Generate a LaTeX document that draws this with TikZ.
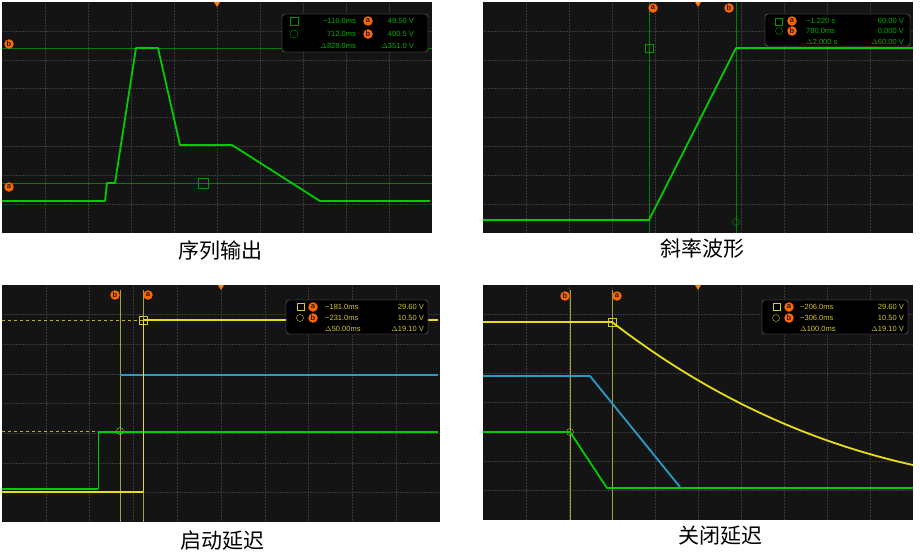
\documentclass[tikz,border=0pt]{standalone}
\usepackage{fontspec}
\newfontfamily\cjk{Noto Sans CJK SC}
\setmainfont{Liberation Sans}
\begin{document}
\begin{tikzpicture}[x=1pt,y=-1pt,
 scr/.style={fill=black!92},
 grd/.style={gray!45!black,densely dotted,line width=0.5pt},
 cur/.style={line width=0.6pt},
 tr/.style={line width=1.8pt,line join=round},
 mk/.style={circle,fill=orange!80!red,inner sep=0pt,minimum size=9.5pt,font=\fontsize{7.5}{7.5}\selectfont\bfseries,text=black!90},
 rd/.style={font=\fontsize{7.5}{8}\selectfont,inner sep=0pt},
 captxt/.style={font=\cjk\fontsize{21}{24}\selectfont}]
\useasboundingbox (0,0) rectangle (920,558);
\fill[white] (0,0) rectangle (920,558);
% panels
\foreach \x/\y/\w/\h in {2/2/430/231, 483/2/430/231, 2/285/438/237, 483/285/430/235}{
 \fill[scr] (\x,\y) rectangle ++(\w,\h);
 \foreach \i in {1,...,9} \draw[grd] ({\x+\i*\w/10},\y) -- ++(0,\h);
 \foreach \j in {1,...,7} \draw[grd] (\x,{\y+\j*\h/8}) -- ++(\w,0);
 \fill[orange] ({\x+\w/2-3},\y) -- ++(6,0) -- ++(-3,5) -- cycle;
}
% ---------- panel 1
\draw[cur,green!50!black] (2,48) -- (432,48);
\draw[cur,green!50!black] (2,183) -- (432,183);
\draw[green!60!black] (198,178) rectangle (208,188);
\draw[tr,green!80!black] (2,201) -- (105,201) -- (107,183) -- (115,183) -- (136,48) -- (158,48) -- (180,145) -- (232,145) -- (320,201) -- (430,201);
\node[mk] (m1b) at (9,44) {b};
\node[mk] (m1a) at (9,187) {a};
\draw[gray,rounded corners=3pt,fill=black] (282,14) rectangle (428,52);
\draw[green!60!black] (290,17) rectangle (298,25);
\draw[green!60!black] (294,34) circle (4pt);
\node[rd,text=green!70!black,anchor=east] (r1a) at (356,21) {−116.0ms};
\node[rd,text=green!70!black,anchor=east] (r1b) at (356,34) {712.0ms};
\node[rd,text=green!70!black,anchor=east] (r1c) at (356,46) {$\Delta$828.0ms};
\node[mk] (r1ma) at (368,21) {a};
\node[mk] (r1mb) at (368,34) {b};
\node[rd,text=green!70!black,anchor=east] (r1d) at (414,21) {49.50 V};
\node[rd,text=green!70!black,anchor=east] (r1e) at (414,34) {400.5 V};
\node[rd,text=green!70!black,anchor=east] (r1f) at (414,46) {$\Delta$351.0 V};
% ---------- panel 2
\draw[cur,green!50!black] (649,2) -- (649,233);
\draw[cur,green!50!black] (736,2) -- (736,233);
\draw[green!60!black] (645,44) rectangle (653,52);
\draw[green!60!black] (736,222) circle (3.5pt);
\draw[tr,green!80!black] (483,220) -- (649,220) -- (736,48) -- (913,48);
\node[mk] (m2a) at (653,8) {a};
\node[mk] (m2b) at (729,8) {b};
\draw[gray,rounded corners=3pt,fill=black] (765,14) rectangle (910,46);
\draw[green!60!black] (775,18) rectangle (782,25);
\draw[green!60!black] (779,31) circle (3.5pt);
\node[mk] (r2ma) at (792,21) {a};
\node[mk] (r2mb) at (792,31) {b};
\node[rd,text=green!70!black,anchor=west] (r2a) at (806,21) {−1.220 s};
\node[rd,text=green!70!black,anchor=west] (r2b) at (806,31) {780.0ms};
\node[rd,text=green!70!black,anchor=west] (r2c) at (806,42) {$\Delta$2.000 s};
\node[rd,text=green!70!black,anchor=east] (r2d) at (904,21) {60.00 V};
\node[rd,text=green!70!black,anchor=east] (r2e) at (904,31) {0.000 V};
\node[rd,text=green!70!black,anchor=east] (r2f) at (904,42) {$\Delta$60.00 V};
% ---------- panel 3
\draw[cur,yellow!60!black] (120,290) -- (120,522);
\draw[cur,yellow!60!black] (143,290) -- (143,522);
\draw[cur,yellow!70!black,dashed] (2,320) -- (440,320);
\draw[cur,yellow!70!black,dashed] (2,431) -- (440,431);
\draw[yellow!80!black] (139,316) rectangle (147,324);
\draw[yellow!80!black] (120,431) circle (3.5pt);
\draw[tr,green!80!black] (2,489) -- (98,489);
\draw[cur,green!80!black] (98,489) -- (98,432);
\draw[tr,green!80!black] (98,432) -- (438,432);
\draw[tr,cyan!80!black] (120,375) -- (438,375);
\draw[tr,yellow!90!black] (2,492) -- (143,492);
\draw[cur,yellow!90!black] (143,492) -- (143,320);
\draw[tr,yellow!90!black] (143,320) -- (438,320);
\node[mk] (m3b) at (115,295) {b};
\node[mk] (m3a) at (148,295) {a};
\draw[gray,rounded corners=3pt,fill=black] (286,300) rectangle (428,334);
\draw[yellow!80!black] (297,303) rectangle (304,310);
\draw[yellow!80!black] (300,318) circle (3.5pt);
\node[mk] (r3ma) at (313,307) {a};
\node[mk] (r3mb) at (313,318) {b};
\node[rd,text=yellow!80!black,anchor=west] (r3a) at (325,307) {−181.0ms};
\node[rd,text=yellow!80!black,anchor=west] (r3b) at (325,318) {−231.0ms};
\node[rd,text=yellow!80!black,anchor=west] (r3c) at (325,329) {$\Delta$50.00ms};
\node[rd,text=yellow!80!black,anchor=east] (r3d) at (424,307) {29.60 V};
\node[rd,text=yellow!80!black,anchor=east] (r3e) at (424,318) {10.50 V};
\node[rd,text=yellow!80!black,anchor=east] (r3f) at (424,329) {$\Delta$19.10 V};
% ---------- panel 4
\draw[cur,yellow!60!black] (570,290) -- (570,520);
\draw[cur,yellow!60!black] (612,290) -- (612,520);
\draw[yellow!80!black] (608,318) rectangle (616,326);
\draw[yellow!80!black] (570,432) circle (3.5pt);
\draw[tr,green!80!black] (483,432) -- (570,432) -- (607,488) -- (913,488);
\draw[tr,cyan!80!black] (483,376) -- (590,376) -- (680,487);
\draw[tr,yellow!90!black] (483,322) -- (612,322) .. controls (700,390) and (800,440) .. (913,465);
\node[mk] (m4b) at (565,296) {b};
\node[mk] (m4a) at (617,296) {a};
\draw[gray,rounded corners=3pt,fill=black] (762,300) rectangle (908,334);
\draw[yellow!80!black] (773,303) rectangle (780,310);
\draw[yellow!80!black] (776,318) circle (3.5pt);
\node[mk] (r4ma) at (789,307) {a};
\node[mk] (r4mb) at (789,318) {b};
\node[rd,text=yellow!80!black,anchor=west] (r4a) at (800,307) {−206.0ms};
\node[rd,text=yellow!80!black,anchor=west] (r4b) at (800,318) {−306.0ms};
\node[rd,text=yellow!80!black,anchor=west] (r4c) at (800,329) {$\Delta$100.0ms};
\node[rd,text=yellow!80!black,anchor=east] (r4d) at (904,307) {29.60 V};
\node[rd,text=yellow!80!black,anchor=east] (r4e) at (904,318) {10.50 V};
\node[rd,text=yellow!80!black,anchor=east] (r4f) at (904,329) {$\Delta$19.10 V};
% captions
\node[captxt] (c1) at (220,251) {序列输出};
\node[captxt] (c2) at (702,249) {斜率波形};
\node[captxt] (c3) at (222,541) {启动延迟};
\node[captxt] (c4) at (720,536) {关闭延迟};
\end{tikzpicture}
\end{document}
